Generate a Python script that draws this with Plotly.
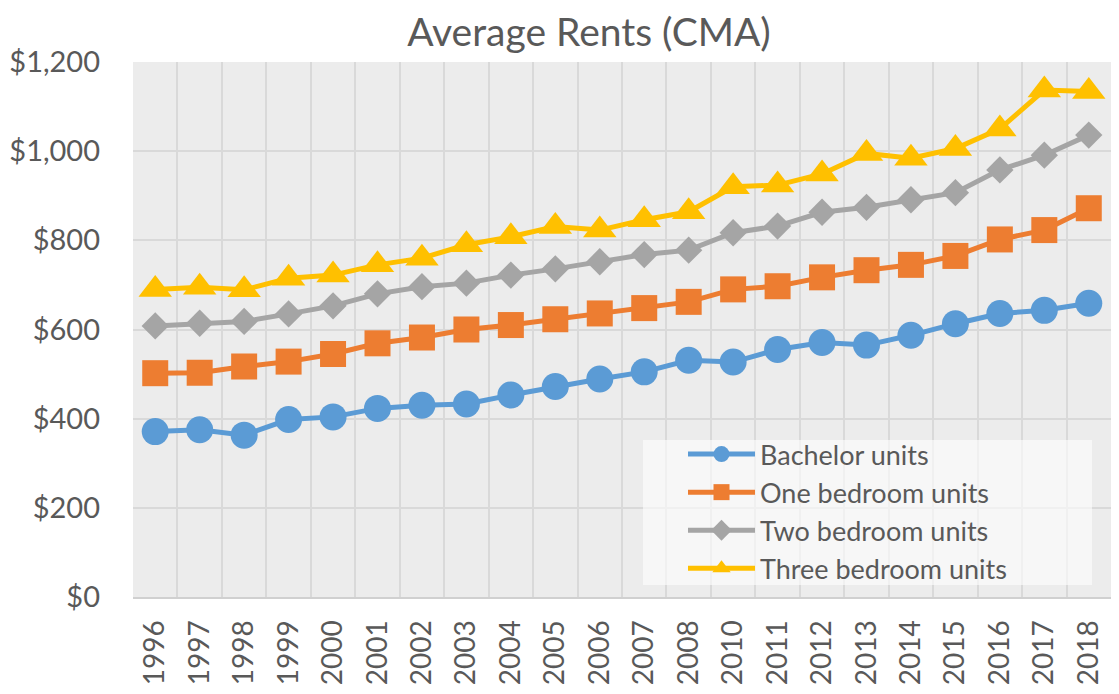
import plotly.graph_objects as go

years = ["1996", "1997", "1998", "1999", "2000", "2001", "2002", "2003", "2004", "2005", "2006",
         "2007", "2008", "2010", "2011", "2012", "2013", "2014", "2015", "2016", "2017", "2018"]
bachelor = [371, 375, 363, 398, 404, 423, 430, 433, 453, 472, 489,
            505, 531, 527, 555, 571, 565, 587, 613, 636, 643, 659]
one_bed = [502, 503, 517, 528, 545, 569, 582, 600, 610, 623, 636,
           648, 662, 690, 697, 717, 733, 745, 765, 802, 823, 872]
two_bed = [608, 614, 618, 635, 653, 680, 696, 704, 722, 736, 752,
           768, 778, 817, 832, 863, 874, 891, 907, 958, 991, 1036]
three_bed = [690, 695, 689, 715, 722, 745, 760, 790, 808, 831, 823,
             846, 864, 920, 924, 949, 995, 984, 1006, 1050, 1137, 1134]

series = [
    ("Bachelor units", bachelor, "#5B9BD5", "circle", 27),
    ("One bedroom units", one_bed, "#ED7D31", "square", 26),
    ("Two bedroom units", two_bed, "#A5A5A5", "diamond", 21),
    ("Three bedroom units", three_bed, "#FFC000", "triangle-up", 29),
]

FONT = "Lato"
TXT = "#595959"

# figure sits inside the page's 8px body margin
W, H = 1103, 678
ML, MR, MT, MB = 125, 0, 54, 89
PW = W - ML - MR
PH = H - MT - MB

fig = go.Figure()
for name, vals, color, sym, msize in series:
    fig.add_trace(go.Scatter(
        x=years, y=vals, name=name, mode="lines+markers",
        line=dict(color=color, width=5),
        marker=dict(symbol=sym, size=msize, color=color, line=dict(width=0)),
    ))

# legend background panel
fig.add_shape(
    type="rect", xref="paper", yref="paper",
    x0=(635 - ML) / PW, x1=(1084 - ML) / PW,
    y0=(MT + PH - 577) / PH, y1=(MT + PH - 432) / PH,
    fillcolor="rgba(255,255,255,0.6)", line=dict(width=0), layer="above",
)

fig.update_layout(
    width=W, height=H,
    paper_bgcolor="white",
    plot_bgcolor="#ececec",
    margin=dict(l=ML, r=MR, t=MT, b=MB, autoexpand=False),
    title=dict(text="Average Rents (CMA)", x=581 / W, xanchor="center",
               y=1 - 24 / H, yanchor="middle",
               font=dict(family=FONT, size=39, color=TXT)),
    font=dict(family=FONT, color=TXT),
    showlegend=True,
    legend=dict(
        x=(675 - ML) / PW, xanchor="left",
        y=(MT + PH - 422) / PH, yanchor="top",
        bgcolor="rgba(0,0,0,0)", borderwidth=0,
        font=dict(family=FONT, size=27, color=TXT),
        tracegroupgap=0,
        itemwidth=67,
    ),
    xaxis=dict(
        type="category",
        range=[-0.5, len(years) - 0.5],
        tickson="boundaries",
        showgrid=True, gridcolor="#d9d9d9", gridwidth=2,
        showline=True, linecolor="#d0d0d0", linewidth=2,
        ticks="", tickangle=-90,
        tickfont=dict(family=FONT, size=28, color=TXT),
        ticklabelstandoff=10,
        automargin=False,
    ),
    yaxis=dict(
        range=[0, 1200], dtick=200,
        tickprefix="$", tickformat=",",
        showgrid=True, gridcolor="#d9d9d9", gridwidth=2,
        zeroline=False, showline=False,
        ticks="",
        tickfont=dict(family=FONT, size=29, color=TXT),
        ticklabelstandoff=32,
        automargin=False,
    ),
)

fig.write_html("out.html")
